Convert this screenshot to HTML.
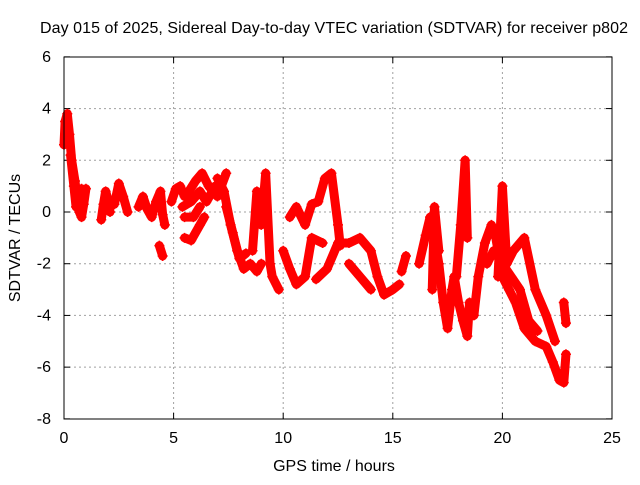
<!DOCTYPE html>
<html><head><meta charset="utf-8"><style>
body{margin:0;background:#fff;}
text{font-family:"Liberation Sans",sans-serif;font-size:16px;fill:#000;}
</style></head><body>
<svg id="chart" width="640" height="480">
<rect width="640" height="480" fill="#fff"/>
<text x="334" y="33" text-anchor="middle" textLength="588">Day 015 of 2025, Sidereal Day-to-day VTEC variation (SDTVAR) for receiver p802</text>
<text x="334" y="471" text-anchor="middle">GPS time / hours</text>
<text transform="translate(20,238) rotate(-90)" text-anchor="middle">SDTVAR / TECUs</text>
<g id="grid"></g><g id="marks"></g>
<rect x="64" y="57" width="548" height="362" fill="none" stroke="#000"/>
</svg>
<script>
const xTicks=[0,5,10,15,20,25];
const yTicks=[6,4,2,0,-2,-4,-6,-8];
const segA=[[0,2.6],[0.05,3.5],[0.15,3.8],[0.25,3.0],[0.35,2.0],[0.5,1.2],[0.6,0.5],[0.7,0.0],[0.8,-0.2],[0.9,0.3],[1.0,0.9]];
const segA2=[[0.3,2.2],[0.45,1.0],[0.55,0.2],[0.7,0.5],[0.8,0.9]];
const segB=[[1.7,-0.3],[1.8,0.3],[1.9,0.8],[2.0,0.5],[2.1,0.0]];
const segC=[[2.3,0.3],[2.5,1.1],[2.7,0.6],[2.9,0.0]];
const segD=[[3.4,0.2],[3.6,0.6],[3.8,0.1],[4.0,-0.2],[4.2,0.4],[4.4,0.8],[4.5,-0.1],[4.6,-0.5]];
const segE=[[4.35,-1.3],[4.5,-1.7]];
const segF=[[4.9,0.4],[5.1,0.9],[5.3,1.0],[5.5,0.6],[5.7,0.8],[6.0,1.2],[6.3,1.5],[6.6,1.0],[7.0,0.6],[7.4,1.5]];
const segF2=[[5.4,0.2],[5.8,0.4],[6.2,0.8],[6.5,0.4],[6.9,1.0]];
const segG=[[5.5,-0.2],[5.9,-0.2],[6.2,0.2]];
const segH=[[5.5,-1.0],[5.8,-1.1],[6.2,-0.5],[6.4,-0.2]];
const segI=[[7.0,1.3],[7.3,0.8],[7.6,-0.5],[7.9,-1.5],[8.2,-2.2],[8.5,-2.0],[8.8,-2.3],[9.0,-2.0]];
const segI2=[[7.4,0.2],[7.7,-0.8],[8.0,-1.8],[8.3,-1.6]];
const segJ=[[8.6,-1.5],[8.8,0.8],[9.0,-0.5],[9.2,1.5],[9.4,-2.0],[9.5,-2.5],[9.8,-3.0]];
const segK=[[10.0,-1.5],[10.3,-2.2],[10.6,-2.8],[11.0,-2.5],[11.3,-1.0],[11.8,-1.2]];
const segL=[[10.3,-0.2],[10.6,0.2],[11.0,-0.5],[11.3,0.3],[11.6,0.4],[11.9,1.3],[12.2,1.5],[12.5,-0.5],[12.6,-1.3]];
const segM=[[11.5,-2.6],[12.0,-2.2],[12.5,-1.2],[13.0,-1.2],[13.5,-1.0],[14.0,-1.5],[14.3,-2.5],[14.6,-3.2],[15.0,-3.0],[15.3,-2.8]];
const segN=[[13.0,-2.0],[13.5,-2.5],[14.0,-3.0]];
const segO=[[15.4,-2.3],[15.6,-1.7]];
const segP=[[16.2,-2.0],[16.5,-0.9],[16.7,-0.2],[16.9,-1.0],[17.1,-2.0],[17.3,-3.5],[17.5,-4.5],[17.7,-3.0],[17.8,-2.5],[18.0,-3.5],[18.2,-4.2],[18.4,-4.8],[18.5,-3.5],[18.7,-4.0],[18.9,-2.5],[19.2,-1.2],[19.5,-0.5],[19.7,-1.0],[20.0,-2.5],[20.3,-3.0],[20.6,-3.5],[21.0,-4.5],[21.5,-5.0],[22.0,-5.2],[22.3,-5.8],[22.6,-6.5],[22.8,-6.6],[22.9,-5.5]];
const segQ=[[16.8,-3.0],[16.9,0.2],[17.1,-1.5]];
const segR=[[17.9,-2.5],[18.1,-0.5],[18.3,2.0],[18.4,-1.0]];
const segS=[[19.8,-2.5],[20.0,1.0],[20.2,-2.0],[20.5,-1.5],[21.0,-1.0],[21.5,-3.0],[22.0,-4.0],[22.4,-5.0]];
const segS2=[[19.3,-2.0],[19.6,-1.5],[20.0,-2.0],[20.4,-2.5],[20.8,-3.0],[21.2,-4.2],[21.6,-4.6]];
const segT=[[22.8,-3.5],[22.9,-4.3]];
const series=[segA,segA2,segB,segC,segD,segE,segF,segF2,segG,segH,segI,segI2,segJ,segK,segL,segM,segN,segO,segP,segQ,segR,segS,segS2,segT];
const X=t=>64+t*(548/25), Y=v=>212-v*(362/14);
const NS="http://www.w3.org/2000/svg";
const grid=document.getElementById('grid'), marks=document.getElementById('marks');
function mk(tag,attrs,parent){const e=document.createElementNS(NS,tag);for(const k in attrs)e.setAttribute(k,attrs[k]);parent.appendChild(e);return e;}
xTicks.forEach(t=>{
 if(t>0&&t<25){const g=mk('line',{x1:X(t),x2:X(t),y1:57,y2:419,stroke:'#a0a0a0','stroke-dasharray':'2,3'},grid);
 
 }
 mk('line',{x1:X(t),x2:X(t),y1:419,y2:413,stroke:'#000'},grid);
 mk('line',{x1:X(t),x2:X(t),y1:57,y2:63,stroke:'#000'},grid);
 const l=mk('text',{x:X(t),y:443,'text-anchor':'middle'},grid);l.textContent=t;
 
 
});
yTicks.forEach(v=>{
 if(v<6&&v>-8){const g=mk('line',{x1:64,x2:612,y1:Y(v),y2:Y(v),stroke:'#a0a0a0','stroke-dasharray':'2,3'},grid);
 
 }
 mk('line',{x1:64,x2:70,y1:Y(v),y2:Y(v),stroke:'#000'},grid);
 mk('line',{x1:606,x2:612,y1:Y(v),y2:Y(v),stroke:'#000'},grid);
 const l=mk('text',{x:51,y:Y(v)+5,'text-anchor':'end'},grid);l.textContent=v;
 
 
});
series.forEach(s=>{
 const p=mk('polyline',{points:s.map(d=>X(d[0])+','+Y(d[1])).join(' '),fill:'none',stroke:'#ff0000','stroke-width':9,'stroke-linejoin':'round','stroke-linecap':'round'},marks);
 
 
 s.forEach(d=>{const x=X(d[0]),y=Y(d[1]);
  const m=mk('path',{d:`M${x-5},${y}H${x+5}M${x},${y-5}V${y+5}`,stroke:'#ff0000','stroke-width':1.5},marks);
  
  
 });
});
</script>
</body></html>
